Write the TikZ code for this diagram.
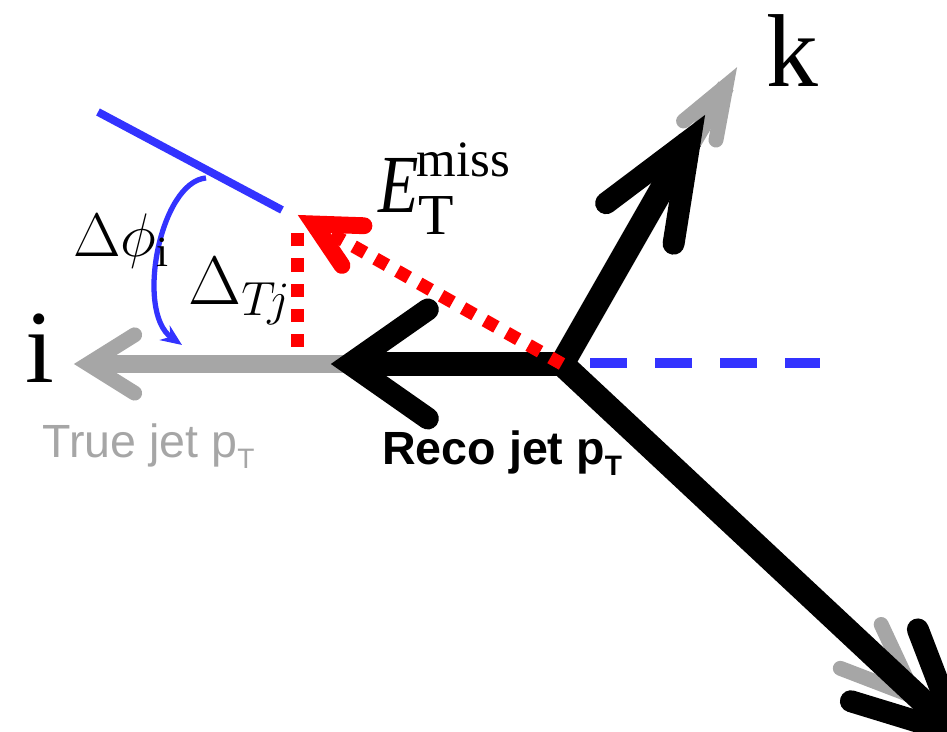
\RequirePackage{fix-cm}
\documentclass[tikz,border=0pt]{standalone}
\usepackage{fontspec}
\setmainfont{Liberation Serif}
\setsansfont{Liberation Sans}
\usepackage{tikz}
\usetikzlibrary{arrows.meta, calc}
\definecolor{jetgrey}{HTML}{A6A6A6}
\definecolor{axisblue}{HTML}{3333FF}
\definecolor{missred}{HTML}{FF0000}
\newcommand{\chevron}[5]{% tip, direction, arm length, half angle, style
  \draw[#5] ($(#1)+({#2+180-#4}:#3)$) -- (#1) -- ($(#1)+({#2+180+#4}:#3)$);%
}
\newcommand{\subT}{\raisebox{-0.22em}{\fontsize{16}{16}\selectfont T}}
\tikzset{
  truejet/.style={jetgrey, line width=10pt},
  truehead/.style={jetgrey, line width=8.5pt, line cap=round, line join=miter},
  recojet/.style={black, line width=14pt},
  recohead/.style={black, line width=12.5pt, line cap=round, line join=miter},
  missline/.style={missred, line width=7.4pt, dash pattern=on 7.5pt off 6.8pt},
  misshead/.style={missred, line width=9.6pt, line cap=round, line join=miter},
  refaxis/.style={axisblue, line width=6.2pt, dash pattern=on 21pt off 16pt},
  planeline/.style={axisblue, line width=4.5pt},
  anglearc/.style={axisblue, line width=3pt, -{Stealth[length=12pt,width=10pt]}},
  biglabel/.style={inner sep=0pt, font=\fontsize{59}{60}\selectfont},
  jetlabel/.style={inner sep=0pt, font=\sffamily\fontsize{26.5}{28}\selectfont},
}

\begin{document}
\begin{tikzpicture}[x=0.02cm, y=0.02cm]
  \useasboundingbox (0,0) rectangle (947,732);
  % anchor points
  \coordinate (vtx) at (562,368);
  \coordinate (itip) at (88,368);
  \coordinate (recotip) at (350,368);
  \coordinate (ktrue) at (726,646);
  \coordinate (kreco) at (690,592);
  \coordinate (brtrue) at (915,35);
  \coordinate (brreco) at (958,-2);
  \coordinate (misstip) at (314,508);
  \coordinate (dtop) at (297,506);
  \coordinate (dbot) at (297,385);
  \coordinate (axisa) at (590,369);
  \coordinate (axisb) at (820,369);
  \coordinate (planea) at (98,620);
  \coordinate (planeb) at (282,522);
  \coordinate (arca) at (206,554);
  \coordinate (arcb) at (182,387);

  % true jets
  \draw[truejet] (vtx) -- (itip);
  \chevron{itip}{180}{55}{32}{truehead}
  \draw[truejet] (vtx) -- (ktrue);
  \chevron{ktrue}{59.5}{55}{20}{truehead}
  \draw[truejet] (vtx) -- (brtrue);
  \chevron{brtrue}{-43}{80}{22}{truehead}

  % reco jets
  \draw[recojet] (vtx) -- (recotip);
  \chevron{recotip}{180}{95}{35}{recohead}
  \draw[recojet] (vtx) -- (kreco);
  \chevron{kreco}{59}{105}{22}{recohead}
  \draw[recojet] (vtx) -- (brreco);
  \chevron{brreco}{-43}{112}{26}{recohead}

  % reference directions
  \draw[refaxis] (axisa) -- (axisb);
  \draw[planeline] (planea) -- (planeb);
  \draw[anglearc] (arca) .. controls (160,550) and (135,420) .. (arcb);

  % missing energy
  \draw[missline] (dbot) -- (dtop);
  \draw[missline] (vtx) -- ($(misstip)!0.06!(vtx)$);
  \chevron{misstip}{151}{50}{27}{misshead}

  % labels
  \node[biglabel, anchor=base] (klab) at (792,645) {k};
  \node[biglabel, anchor=base] (ilab) at (40,349) {i};
  \node[inner sep=0pt, anchor=base west, font=\fontsize{47}{48}\selectfont] (misslab) at (378,519)
    {\scalebox{0.8}[1]{\itshape E}\hspace{-1pt}\rlap{\raisebox{21pt}{\fontsize{29}{29}\selectfont miss}}\hspace{1pt}\raisebox{-12.5pt}{\fontsize{33}{33}\selectfont T}};
  \node[inner sep=0pt, anchor=base west, font=\fontsize{35}{36}\selectfont] (dphilab) at (73,475) {$\Delta\phi_{\mathrm{i}}$};
  \node[inner sep=0pt, anchor=base west, font=\fontsize{39}{40}\selectfont] (dtjlab) at (188,427) {$\Delta_{T\!j}$};
  \node[jetlabel, text=jetgrey, anchor=base west] (truelab) at (42,274) {True jet p\subT};
  \node[jetlabel, anchor=base west] (recolab) at (382,267) {\bfseries Reco jet p\subT};
\end{tikzpicture}
\end{document}
